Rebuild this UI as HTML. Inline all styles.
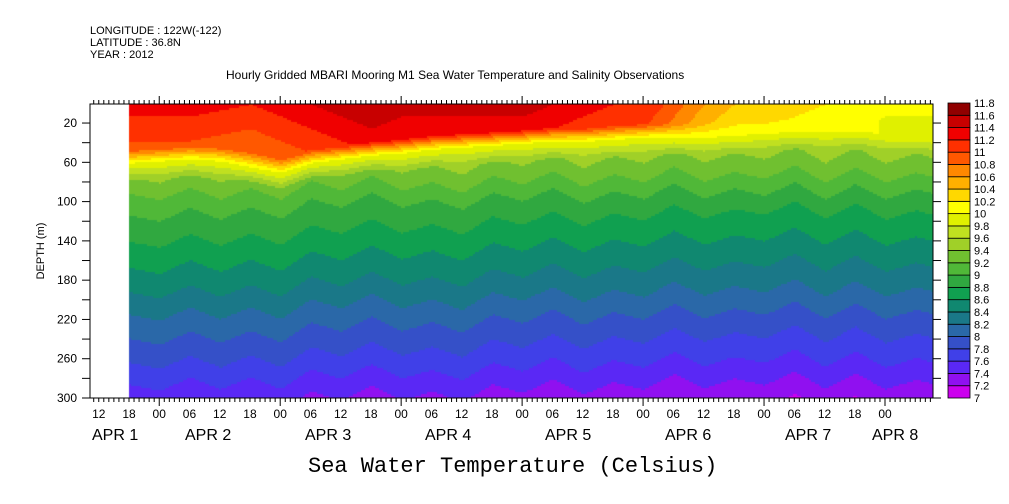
<!DOCTYPE html>
<html><head><meta charset="utf-8">
<style>
body{margin:0;background:#fff;width:1009px;height:504px;overflow:hidden;position:relative;font-family:"Liberation Sans",sans-serif;}
.t{position:absolute;font-size:11px;color:#000;white-space:nowrap;}
</style></head><body>
<div class="t" style="left:90px;top:25px;">LONGITUDE : 122W(-122)</div>
<div class="t" style="left:90px;top:37px;">LATITUDE : 36.8N</div>
<div class="t" style="left:90px;top:49px;">YEAR : 2012</div>
<div class="t" style="left:226px;top:68px;font-size:12px;">Hourly Gridded MBARI Mooring M1 Sea Water Temperature and Salinity Observations</div>
<div class="t" style="left:308px;top:454px;font-family:'Liberation Mono',monospace;font-size:22px;">Sea Water Temperature (Celsius)</div>
<canvas id="cv" width="1009" height="504" style="position:absolute;left:0;top:0"></canvas>
<svg id="sv" width="1009" height="504" style="position:absolute;left:0;top:0"></svg>
<script>
const levels=[7,7.2,7.4,7.6,7.8,8,8.2,8.4,8.6,8.8,9,9.2,9.4,9.6,9.8,10,10.2,10.4,10.6,10.8,11,11.2,11.4,11.6,11.8];
const colors=["#cc00ee","#9010f0","#5a28f5","#4040e8","#3550c8","#2a68a8","#1a7888","#108870","#10a050","#30a840","#50b838","#70c030","#a0d028","#c0e020","#e0f000","#ffff00","#ffd800","#ffb000","#ff8800","#ff5800","#ff3000","#f00000","#c80000","#900000"];
const hours=[0,6,12,18,24,30,36,42,48,54,60,66,72,78,84,90,96,102,108,114,120,126,132,138,144,150,156,162];
const surfT=[11.3,11.3,11.3,11.25,11.2,11.3,11.4,11.5,11.6,11.5,11.5,11.5,11.5,11.5,11.4,11.3,11.2,11.2,10.9,10.6,10.4,10.4,10.3,10.2,10.2,10.1,10.1,10.1];
const mixDepth=[46,44,42,44,50,56,46,42,38,36,32,30,28,26,24,24,22,20,20,20,18,16,14,14,14,16,18,20];
const waveDisp=[0,6,-4,8,-2,10,-8,4,-10,6,-2,10,-6,3,-9,8,-4,5,-10,7,-3,6,-8,10,-6,8,-4,3];
const deepShift=[0.15,0.15,0.12,0.12,0.1,0.1,0.08,0.06,0.05,0.04,0.03,0.02,0,0,-0.02,-0.03,-0.04,-0.05,-0.06,-0.08,-0.08,-0.1,-0.1,-0.1,-0.1,-0.08,-0.06,-0.05];
const deepZ=[0,40,70,100,140,180,220,260,300,330];
const deepT=[9.9,9.6,9.3,8.95,8.65,8.35,8.0,7.68,7.32,7.1];
const x0=129,hx=5.04,yTop=104,yBot=398,ppm=0.982,y0m=103.4;
function X(h){return x0+h*hx;}
function Y(z){return y0m+z*ppm;}
function interp(xs,ys,v){if(v<=xs[0])return ys[0];for(let i=1;i<xs.length;i++){if(v<=xs[i]){const f=(v-xs[i-1])/(xs[i]-xs[i-1]);return ys[i-1]+f*(ys[i]-ys[i-1]);}}return ys[ys.length-1];}
function temp(h,z){const Ts=interp(hours,surfT,h),m=interp(hours,mixDepth,h),d=interp(hours,waveDisp,h),s=interp(hours,deepShift,h);
 const Tm=Ts-0.008*m; const dp=interp(deepZ,deepT,z-d)+s;
 if(z<m) return Ts-0.008*z;
 if(z<m+14) return Tm+(10-Tm)*(z-m)/14;
 if(z<m+32){const e=interp(deepZ,deepT,m+32-d)+s;return Math.min(10,10+(e-10)*(z-m-14)/18);}
 return dp;}
function col(t){for(let i=0;i<24;i++){if(t<levels[i+1])return colors[i];}return colors[23];}
const cv=document.getElementById('cv').getContext('2d');
for(let x=x0;x<933;x+=2){const h=(x-x0)/hx;for(let y=yTop;y<yBot;y+=2){const z=(y-y0m)/ppm;cv.fillStyle=col(temp(h,z));cv.fillRect(x,y,2,2);}}
const NS='http://www.w3.org/2000/svg';const sv=document.getElementById('sv');
function el(t,a){const e=document.createElementNS(NS,t);for(const k in a)e.setAttribute(k,a[k]);sv.appendChild(e);return e;}
let r=el('rect',{x:90,y:104,width:843,height:294,fill:'none',stroke:'#000','stroke-width':1});

for(let h=-8;h<=160;h++){const x=X(h);if(x<90||x>933)continue;const big=((h+18)%24==0);const L=big?8:4;
 el('line',{x1:x,y1:104,x2:x,y2:104-L,stroke:'#000'});el('line',{x1:x,y1:398,x2:x,y2:398+L,stroke:'#000'});}
const tickHours=[-6,0,6,12,18,24,30,36,42,48,54,60,66,72,78,84,90,96,102,108,114,120,126,132,138,144,150];
const tickLabels=["12","18","00","06","12","18","00","06","12","18","00","06","12","18","00","06","12","18","00","06","12","18","00","06","12","18","00","06"];
tickHours.forEach((h,i)=>{const t=el('text',{x:X(h),y:418,'font-size':12,'text-anchor':'middle','font-family':'Liberation Sans'});t.textContent=tickLabels[i];
 });
const dayX=[92,185,305,425,545,665,785,872];const dayT=["APR   1","APR   2","APR   3","APR   4","APR   5","APR   6","APR   7","APR   8"];
dayX.forEach((x,i)=>{const t=el('text',{x:x,y:440,'font-size':16,'font-family':'Liberation Sans','xml:space':'preserve'});t.textContent=dayT[i];
 });
for(let z=20;z<=300;z+=20){const y=Y(z);el('line',{x1:90,y1:y,x2:82,y2:y,stroke:'#000'});el('line',{x1:933,y1:y,x2:941,y2:y,stroke:'#000'});}
[20,60,100,140,180,220,260,300].forEach(z=>{const t=el('text',{x:77,y:Y(z)+4,'font-size':12,'text-anchor':'end','font-family':'Liberation Sans'});t.textContent=z;
 });
const yt=el('text',{x:44,y:251,'font-size':11,'text-anchor':'middle','font-family':'Liberation Sans',transform:'rotate(-90 44 251)'});yt.textContent='DEPTH (m)';

const cbT=103,cbB=398,cbh=(cbB-cbT)/24;
colors.forEach((c,i)=>{const y=cbB-(i+1)*cbh;const b=el('rect',{x:948,y:y,width:22,height:cbh,fill:c,stroke:'#000','stroke-width':0.8});
 });
levels.forEach((v,i)=>{const t=el('text',{x:974,y:cbB-i*cbh+4,'font-size':11,'font-family':'Liberation Sans'});t.textContent=v;
 });
</script>
</body></html>
